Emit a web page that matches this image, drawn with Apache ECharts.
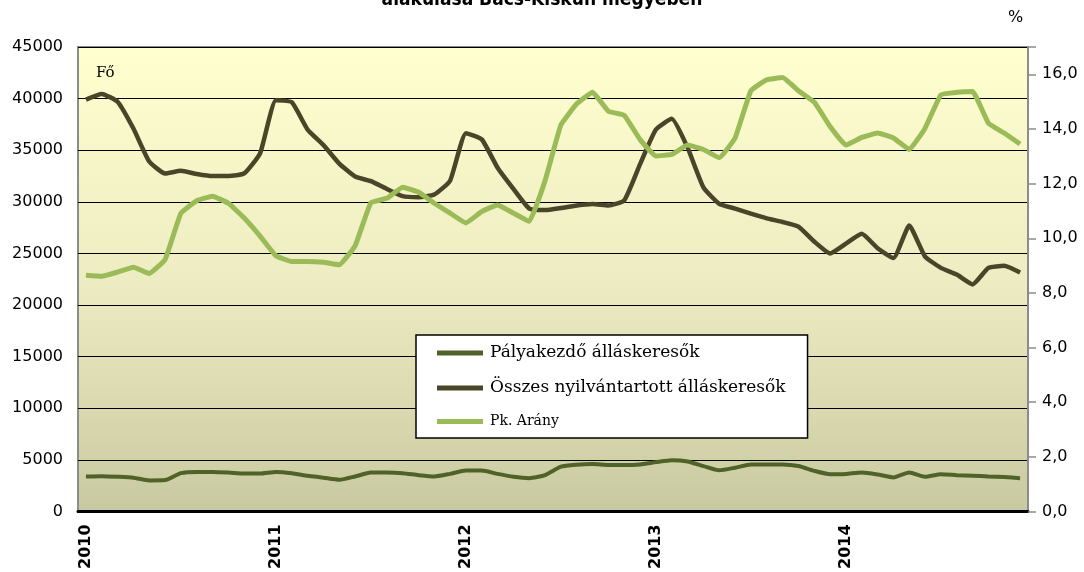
<!DOCTYPE html>
<html>
<head>
<meta charset="utf-8">
<title>Pályakezdő álláskeresők</title>
<script src="https://cdn.jsdelivr.net/npm/echarts@6/dist/echarts.min.js"></script>
<style>
  html, body { margin: 0; padding: 0; background: #fff; }
  #chartmain { width: 1084px; height: 572px; }
</style>
</head>
<body>
<div id="chartmain"></div>
<script>
// honapok 2010-01 .. 2014-12
let years = ['2010', '2011', '2012', '2013', '2014'];
let months = [];
for (let y = 0; y < years.length; y++) {
  for (let m = 1; m <= 12; m++) {
    months.push(years[y] + '-' + (m < 10 ? '0' + m : m));
  }
}

// Pályakezdő álláskeresők (fő)
let palyakezdo = [
  3390, 3420, 3360, 3270, 3010, 3040, 3710, 3830, 3830, 3770, 3670, 3670,
  3830, 3710, 3460, 3270, 3070, 3390, 3770, 3770, 3710, 3520, 3390, 3640,
  3960, 3960, 3640, 3360, 3230, 3520, 4340, 4530, 4590, 4500, 4500, 4560,
  4780, 4970, 4850, 4400, 3990, 4240, 4560, 4560, 4560, 4400, 3930, 3610,
  3640, 3770, 3580, 3300, 3770, 3360, 3610, 3520, 3460, 3390, 3330, 3230
];

// Összes nyilvántartott álláskeresők (fő)
let osszes = [
  39900, 40450, 39700, 37100, 33900, 32750, 33000, 32700, 32500, 32500, 32750, 34700,
  39850, 39650, 37000, 35500, 33700, 32450, 32000, 31250, 30550, 30450, 30700, 32050,
  36650, 36050, 33300, 31250, 29350, 29200, 29400, 29650, 29800, 29650, 30150, 33650,
  37000, 38050, 35250, 31400, 29800, 29350, 28850, 28400, 28050, 27600, 26150, 25000,
  25950, 26900, 25500, 24550, 27700, 24700, 23600, 22950, 22000, 23600, 23800, 23150
];

// Pk. Arány (%)
let arany = [
  8.65, 8.61, 8.76, 8.94, 8.71, 9.22, 10.92, 11.37, 11.54, 11.28, 10.74, 10.08,
  9.36, 9.15, 9.15, 9.12, 9.03, 9.72, 11.30, 11.46, 11.87, 11.69, 11.28, 10.92,
  10.56, 10.98, 11.22, 10.92, 10.62, 12.11, 14.15, 14.92, 15.34, 14.65, 14.50, 13.61,
  13.01, 13.07, 13.41, 13.25, 12.95, 13.67, 15.40, 15.80, 15.88, 15.40, 14.98, 14.09,
  13.41, 13.69, 13.85, 13.67, 13.25, 14.03, 15.25, 15.34, 15.37, 14.21, 13.85, 13.45
];

let chartmain = echarts.init(document.getElementById('chartmain'));

chartmain.setOption({
  animation: false,
  graphic: [
    { // a cim also sora, a felso resze kilog a kepbol
      type: 'text',
      left: 'center',
      top: -9,
      style: {
        text: 'alakulása Bács-Kiskun megyében',
        font: 'bold 19px "DejaVu Sans Condensed", "DejaVu Sans"',
        fill: '#000'
      }
    },
    {
      type: 'text',
      left: 1008,
      top: 10,
      style: { text: '%', font: '16px "DejaVu Sans"', fill: '#000' }
    },
    {
      type: 'text',
      left: 96,
      top: 66,
      z: 10,
      style: { text: 'Fő', font: '15px "DejaVu Serif"', fill: '#000' }
    }
  ],
  legend: {
    orient: 'vertical',
    left: 416,
    top: 335,
    backgroundColor: '#fff',
    borderColor: '#000',
    borderWidth: 1.5,
    padding: [8, 22, 8, 21],
    itemGap: 15,
    itemWidth: 46,
    itemHeight: 5,
    icon: 'rect',
    textStyle: {
      fontFamily: '"DejaVu Serif"',
      fontSize: 17,
      lineHeight: 20,
      color: '#000',
      padding: [0, 0, 0, 2]
    },
    data: [
      'Pályakezdő álláskeresők',
      'Összes nyilvántartott álláskeresők',
      { name: 'Pk. Arány', textStyle: { fontSize: 14, lineHeight: 17 } }
    ]
  },
  grid: {
    left: 78,
    right: 56,
    top: 47,
    bottom: 50,
    show: true,
    borderColor: '#8c8c8c',
    borderWidth: 2,
    backgroundColor: new echarts.graphic.LinearGradient(0, 0, 0, 1, [
      { offset: 0, color: '#ffffcf' },
      { offset: 0.5, color: '#eeecc2' },
      { offset: 1, color: '#c9c9a1' }
    ])
  },
  xAxis: {
    type: 'category',
    data: months,
    boundaryGap: true,
    axisLine: { lineStyle: { color: '#000', width: 3 } },
    axisTick: { show: false },
    axisLabel: {
      rotate: 90,
      margin: 13,
      interval: function (idx) { return idx % 12 === 0; },
      formatter: function (v) { return v.slice(0, 4); },
      fontFamily: '"DejaVu Sans"',
      fontSize: 16,
      fontWeight: 'bold',
      color: '#000'
    }
  },
  yAxis: [
    {
      type: 'value',
      min: 0,
      max: 45000,
      interval: 5000,
      axisLine: { show: false },
      axisTick: { show: false },
      axisLabel: {
        margin: 15,
        fontFamily: '"DejaVu Sans"',
        fontSize: 16,
        color: '#000',
        formatter: function (v) { return String(v); }
      },
      splitLine: { lineStyle: { color: '#000', width: 1 } }
    },
    {
      type: 'value',
      position: 'right',
      min: 0,
      max: 17,
      interval: 2,
      axisLine: { show: true, lineStyle: { color: '#8c8c8c', width: 2 } },
      axisTick: { show: true, length: 8, lineStyle: { color: '#8c8c8c', width: 1.5 } },
      axisLabel: {
        margin: 14,
        fontFamily: '"DejaVu Sans"',
        fontSize: 16,
        color: '#000',
        formatter: function (v) {
          if (v > 16.5) return '';
          return v.toFixed(1).replace('.', ',');
        }
      },
      splitLine: { show: false }
    }
  ],
  series: [
    {
      name: 'Pályakezdő álláskeresők',
      type: 'line',
      yAxisIndex: 0,
      data: palyakezdo,
      smooth: 0.2,
      symbol: 'none',
      color: '#4f6228',
      lineStyle: { width: 4, color: '#4f6228' }
    },
    {
      name: 'Összes nyilvántartott álláskeresők',
      type: 'line',
      yAxisIndex: 0,
      data: osszes,
      smooth: 0.15,
      symbol: 'none',
      color: '#4a4529',
      lineStyle: { width: 4.5, color: '#4a4529' }
    },
    {
      name: 'Pk. Arány',
      type: 'line',
      yAxisIndex: 1,
      data: arany,
      smooth: 0.1,
      symbol: 'none',
      color: '#9bbb59',
      lineStyle: { width: 5, color: '#9bbb59' }
    }
  ]
});
</script>
</body>
</html>
